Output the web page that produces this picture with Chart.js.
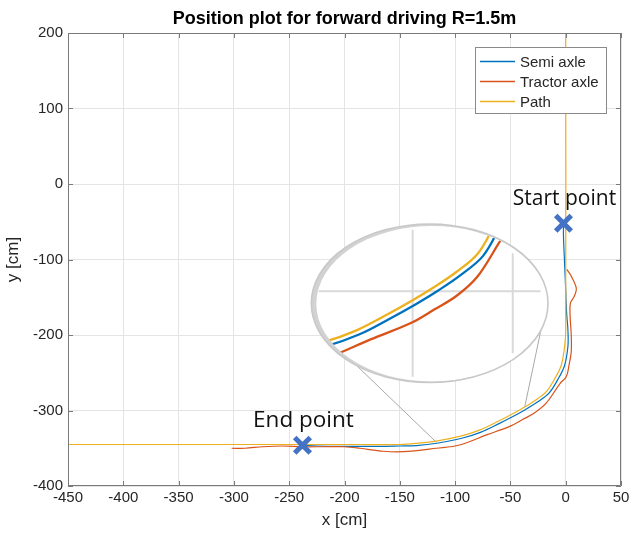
<!DOCTYPE html>
<html><head><meta charset="utf-8">
<script src="https://cdn.jsdelivr.net/npm/chart.js@4/dist/chart.umd.min.js"></script>
<style>html,body{margin:0;padding:0;background:#fff}#wrap{width:632px;height:540px}</style>
</head><body><div id="wrap"><canvas id="c" width="632" height="540"></canvas></div>
<script>
const titleText = 'Position plot for forward driving R=1.5m';
const xTitle = 'x [cm]';
const yTitle = 'y [cm]';
const xTickValues = [-450,-400,-350,-300,-250,-200,-150,-100,-50,0,50];
const yTickValues = [-400,-300,-200,-100,0,100,200];
const seriesNames = ['Semi axle','Tractor axle','Path'];

const semiX = [-2,-2,-1,0,0.8,2,2,-1.1,-7.2,-14.9,-25.9,-37,-48.2,-60.3,-76.5,-93.9,-116.4,-134.7,-150,-170,-200,-225,-238];
const semiY = [-52,-70,-105,-140,-170,-193,-215.3,-240.7,-259.1,-276.6,-289.1,-299.3,-308.4,-317.4,-328.6,-336.8,-343.4,-346.5,-347,-347.5,-347.5,-347,-346];

const tractorX = [1,5,9.6,8,4.2,4,5,5,3,0.6,-5,-17.5,-28,-39,-50.6,-71,-96,-117,-147,-165,-186,-200,-220,-238,-256,-274,-290,-302];
const tractorY = [-113,-122,-138,-148,-158,-175,-200,-222,-240,-255,-264,-290,-303,-312,-321,-332,-345.7,-350,-354.6,-354,-350,-348,-348,-348,-347,-348,-350,-350];

const pathX = [0,0,-1,-4,-10,-17.5,-28,-39,-50,-62,-78,-95,-117,-135,-150,-186,-450];
const pathY = [200,-195,-215,-240,-258,-275,-287,-297,-306,-315,-326,-334,-340.5,-343.5,-345,-345,-345];

const markerX = [-2,-238];
const markerY = [-52,-346];
const markerLabels = ['Start point','End point'];
const markerLabelSizes = [21,22.5];

// magnifier lens (data units) and the curve points it points to
const lensCenter = [-123,-158];
const lensRadius = [107,105];
const lensFocus = [-41.5,-308];
const lensMag = [1.81,1.99];
const lensAnglesDeg = [128,20];
const lensTargetX = [-117,-37];
const lensTargetY = [-342,-295];

const FONT = "'Liberation Sans', Arial, Helvetica, sans-serif";
const AX = '#262626';
const colors = ['#0072BD','#D95319','#EDB120'];

function pts(xs, ys){ return xs.map((x,i)=>({x:x, y:ys[i]})); }

const titlePlugin = {
  id:'axTitle',
  afterDraw(chart){
    const {ctx, chartArea:a} = chart;
    ctx.save();
    ctx.font = 'bold 18px ' + FONT;
    ctx.fillStyle = '#000';
    ctx.textAlign = 'center';
    ctx.textBaseline = 'alphabetic';
    ctx.fillText(titleText, (a.left + a.right)/2, 23.5);
    ctx.restore();
  }
};

const boxPlugin = {
  id:'boxTicks',
  afterDatasetsDraw(chart){
    const {ctx, chartArea:a, scales:{x:xs, y:ys}} = chart;
    ctx.save();
    ctx.strokeStyle = '#7a7a7a';
    ctx.lineWidth = 1;
    ctx.beginPath();
    ctx.rect(Math.round(a.left)+0.5, Math.round(a.top)+0.5, Math.round(a.right-a.left)-1, Math.round(a.bottom-a.top)-1);
    ctx.stroke();
    ctx.beginPath();
    const tl = 5;
    xTickValues.forEach(v=>{
      const p = Math.round(xs.getPixelForValue(v))+0.5;
      ctx.moveTo(p, a.bottom); ctx.lineTo(p, a.bottom-tl);
      ctx.moveTo(p, a.top); ctx.lineTo(p, a.top+tl);
    });
    yTickValues.forEach(v=>{
      const p = Math.round(ys.getPixelForValue(v))+0.5;
      ctx.moveTo(a.left, p); ctx.lineTo(a.left+tl, p);
      ctx.moveTo(a.right, p); ctx.lineTo(a.right-tl, p);
    });
    ctx.stroke();
    ctx.restore();
  }
};

function tracePath(ctx, pointsEls, mapX, mapY){
  ctx.beginPath();
  pointsEls.forEach((p,i)=>{
    if (i===0){ ctx.moveTo(mapX(p.x), mapY(p.y)); return; }
    const prev = pointsEls[i-1];
    if (prev.cp2x !== undefined && p.cp1x !== undefined){
      ctx.bezierCurveTo(mapX(prev.cp2x), mapY(prev.cp2y), mapX(p.cp1x), mapY(p.cp1y), mapX(p.x), mapY(p.y));
    } else {
      ctx.lineTo(mapX(p.x), mapY(p.y));
    }
  });
}

const lensPlugin = {
  id:'lens',
  afterDatasetsDraw(chart){
    const {ctx, scales:{x:xs, y:ys}} = chart;
    const cx = xs.getPixelForValue(lensCenter[0]), cy = ys.getPixelForValue(lensCenter[1]);
    const rx = Math.abs(xs.getPixelForValue(lensCenter[0]+lensRadius[0]) - cx);
    const ry = Math.abs(ys.getPixelForValue(lensCenter[1]+lensRadius[1]) - cy);
    const fx = xs.getPixelForValue(lensFocus[0]), fy = ys.getPixelForValue(lensFocus[1]);
    const mapX = px => cx + lensMag[0]*(px-fx);
    const mapY = py => cy + lensMag[1]*(py-fy);
    ctx.save();
    ctx.strokeStyle = '#a8a8a8';
    ctx.lineWidth = 1;
    lensAnglesDeg.forEach((deg,i)=>{
      const t = deg*Math.PI/180;
      ctx.beginPath();
      ctx.moveTo(cx + rx*Math.cos(t), cy + ry*Math.sin(t));
      ctx.lineTo(xs.getPixelForValue(lensTargetX[i]), ys.getPixelForValue(lensTargetY[i]));
      ctx.stroke();
    });
    ctx.beginPath();
    ctx.ellipse(cx, cy, rx, ry, 0, 0, Math.PI*2);
    ctx.fillStyle = '#ffffff';
    ctx.fill();
    ctx.save();
    ctx.beginPath();
    ctx.ellipse(cx, cy, rx-1, ry-1, 0, 0, Math.PI*2);
    ctx.clip();
    const irx = rx-6, iry = ry-5;
    ctx.strokeStyle = '#d9d9d9';
    ctx.lineWidth = 2;
    xTickValues.forEach(v=>{
      const px = mapX(xs.getPixelForValue(v));
      const u = (px-cx)/irx;
      if (Math.abs(u) < 0.97){
        const h = iry*Math.sqrt(1-u*u);
        ctx.beginPath(); ctx.moveTo(px, cy-h); ctx.lineTo(px, cy+h); ctx.stroke();
      }
    });
    yTickValues.forEach(v=>{
      const py = mapY(ys.getPixelForValue(v));
      const u = (py-cy)/iry;
      if (Math.abs(u) < 0.97){
        const w = irx*Math.sqrt(1-u*u);
        ctx.beginPath(); ctx.moveTo(cx-w, py); ctx.lineTo(cx+w, py); ctx.stroke();
      }
    });
    ctx.lineWidth = 2.3;
    ctx.lineJoin = 'round';
    for (let d=0; d<3; d++){
      const meta = chart.getDatasetMeta(d);
      ctx.strokeStyle = chart.data.datasets[d].borderColor;
      tracePath(ctx, meta.data, mapX, mapY);
      ctx.stroke();
    }
    ctx.restore();
    // rim: crescent thicker on the left, like a lens edge
    ctx.beginPath();
    ctx.ellipse(cx, cy, rx, ry, 0, 0, Math.PI*2);
    ctx.ellipse(cx+2.5, cy+0.5, rx-2.5, ry-1.5, 0, 0, Math.PI*2);
    ctx.fillStyle = '#d2d2d2';
    ctx.fill('evenodd');
    ctx.strokeStyle = '#c8c8c8';
    ctx.lineWidth = 1.6;
    ctx.beginPath();
    ctx.ellipse(cx, cy, rx, ry, 0, 0, Math.PI*2);
    ctx.stroke();
    ctx.restore();
  }
};

const labelPlugin = {
  id:'markerLabels',
  afterDraw(chart){
    const {ctx, scales:{x:xs, y:ys}} = chart;
    ctx.save();
    ctx.fillStyle = '#111111';
    ctx.textAlign = 'center';
    ctx.textBaseline = 'alphabetic';
    markerLabels.forEach((t,i)=>{
      ctx.font = markerLabelSizes[i] + "px 'Open Sans', 'Noto Sans', sans-serif";
      ctx.fillText(t, xs.getPixelForValue(markerX[i]) + 1, ys.getPixelForValue(markerY[i]) - 18);
    });
    ctx.restore();
  }
};

const legendPlugin = {
  id:'boxLegend',
  afterDraw(chart){
    const {ctx, chartArea:a} = chart;
    const w = 131, h = 66;
    const x0 = Math.round(a.right - 15 - w), y0 = Math.round(a.top + 14);
    ctx.save();
    ctx.fillStyle = '#ffffff';
    ctx.fillRect(x0, y0, w, h);
    ctx.strokeStyle = '#8a8a8a';
    ctx.lineWidth = 1;
    ctx.strokeRect(x0+0.5, y0+0.5, w, h);
    ctx.font = '15px ' + FONT;
    ctx.textBaseline = 'middle';
    ctx.textAlign = 'left';
    for (let i=0;i<3;i++){
      const ds = chart.data.datasets[i];
      const yy = y0 + 14.5 + 20*i;
      ctx.strokeStyle = ds.borderColor;
      ctx.lineWidth = 1.3;
      ctx.beginPath(); ctx.moveTo(x0+5, yy); ctx.lineTo(x0+40, yy); ctx.stroke();
      ctx.fillStyle = AX;
      ctx.fillText(ds.label, x0+45, yy+1);
    }
    ctx.restore();
  }
};

const lineDs = (label, xs, ys, color, order) => ({
  label, data: pts(xs, ys), showLine:true, borderColor:color, backgroundColor:color,
  borderWidth:1.2, pointRadius:0, pointHoverRadius:0, tension:0.35, order
});

new Chart(document.getElementById('c'), {
  type:'scatter',
  data:{
    datasets:[
      lineDs(seriesNames[0], semiX, semiY, colors[0], 3),
      lineDs(seriesNames[1], tractorX, tractorY, colors[1], 2),
      lineDs(seriesNames[2], pathX, pathY, colors[2], 1),
      {label:'markers', data: pts(markerX, markerY), showLine:false, pointStyle:'crossRot',
       pointRadius:11, pointBorderWidth:5, borderColor:'#4472C4', backgroundColor:'#4472C4',
       pointBorderColor:'#4472C4', order:0}
    ]
  },
  options:{
    responsive:false, animation:false, devicePixelRatio:1,
    layout:{autoPadding:false, padding:{top:33,right:11,left:0,bottom:0}},
    plugins:{
      legend:{display:false},
      tooltip:{enabled:false},
      title:{display:false}
    },
    scales:{
      x:{type:'linear', min:-450, max:50,
        afterBuildTicks: s => { s.ticks = xTickValues.map(v=>({value:v})); },
        afterFit: s => { s.height = 54; s.paddingLeft = 0; s.paddingRight = 0; },
        grid:{color:'#e4e4e4', drawTicks:false},
        border:{display:false},
        ticks:{color:AX, font:{family:FONT, size:15}, padding:3, maxRotation:0},
        title:{display:true, text:xTitle, color:AX, font:{family:FONT, size:17}, padding:{top:0,bottom:9}}
      },
      y:{type:'linear', min:-400, max:200,
        afterBuildTicks: s => { s.ticks = yTickValues.map(v=>({value:v})); },
        afterFit: s => { s.width = 68; s.paddingTop = 0; s.paddingBottom = 0; },
        grid:{color:'#e4e4e4', drawTicks:false},
        border:{display:false},
        ticks:{color:AX, font:{family:FONT, size:15}, padding:5},
        title:{display:true, text:yTitle, color:AX, font:{family:FONT, size:17}, padding:{top:3,bottom:0}}
      }
    }
  },
  plugins:[boxPlugin, lensPlugin, labelPlugin, legendPlugin, titlePlugin]
});
</script>
</body></html>
